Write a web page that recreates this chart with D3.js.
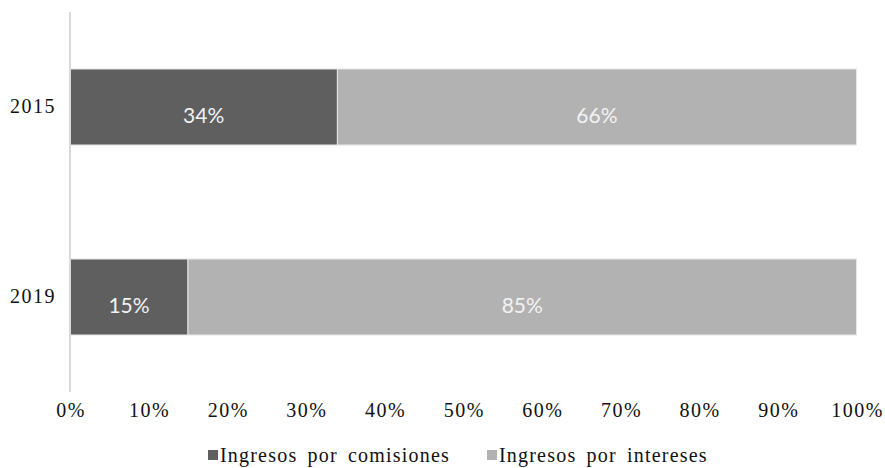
<!DOCTYPE html>
<html>
<head>
<meta charset="utf-8">
<script src="https://cdn.jsdelivr.net/npm/d3@7"></script>
<style>
  body { margin: 0; background: #fff; }
  svg { display: block; }
  .serif { font-family: "Liberation Serif", "DejaVu Serif", "Times New Roman", serif; }
  .lab { font-family: Lato, "Open Sans", sans-serif; }
</style>
</head>
<body>
<div id="chart"></div>
<script>
const years = ["2015", "2019"];
const comisiones = [34, 15];
const intereses = [66, 85];
const seriesNames = ["Ingresos por comisiones", "Ingresos por intereses"];
const xTicks = [0, 10, 20, 30, 40, 50, 60, 70, 80, 90, 100];

const width = 885;
const height = 468;
const marginLeft = 70;
const marginRight = 28;
const marginTop = 12;
const marginBottom = 76;

const colors = ["#5f5f5f", "#b2b2b2"];

const svg = d3.select("#chart").append("svg")
    .attr("width", width)
    .attr("height", height);

const rows = years.map((y, i) => ({ year: y, comisiones: comisiones[i], intereses: intereses[i] }));
const stacked = d3.stack().keys(["comisiones", "intereses"])(rows);

const x = d3.scaleLinear()
    .domain([0, 100])
    .range([marginLeft, width - marginRight - 0.5]);

const y = d3.scaleBand()
    .domain(years)
    .range([marginTop, height - marginBottom])
    .paddingInner(0.6)
    .paddingOuter(0.3);

// bars
svg.append("g").selectAll("g")
  .data(stacked)
  .join("g")
    .attr("fill", (d, i) => colors[i])
  .selectAll("rect")
  .data(d => d)
  .join("rect")
    .attr("x", d => x(d[0]))
    .attr("y", d => y(d.data.year))
    .attr("width", d => x(d[1]) - x(d[0]))
    .attr("height", y.bandwidth())
    .attr("stroke", "#e6e6e6")
    .attr("stroke-width", 1);

// value labels
svg.append("g").selectAll("g")
  .data(stacked)
  .join("g")
  .selectAll("text")
  .data(d => d)
  .join("text")
    .attr("class", "lab")
    .attr("x", d => (x(d[0]) + x(d[1])) / 2)
    .attr("y", d => y(d.data.year) + y.bandwidth() / 2 + 16)
    .attr("text-anchor", "middle")
    .attr("fill", "#f2f2f2")
    .attr("font-size", 21)
    .text(d => (d[1] - d[0]) + "%");

// vertical axis line
svg.append("line")
    .attr("x1", x(0)).attr("x2", x(0))
    .attr("y1", marginTop).attr("y2", height - marginBottom)
    .attr("stroke", "#d9d9d9")
    .attr("stroke-width", 2);

// year labels
svg.append("g").selectAll("text")
  .data(years)
  .join("text")
    .attr("class", "serif")
    .attr("x", marginLeft - 14)
    .attr("y", d => y(d) + y.bandwidth() / 2 + 6)
    .attr("text-anchor", "end")
    .attr("font-size", 20)
    .attr("letter-spacing", 1.5)
    .attr("fill", "#111")
    .text(d => d);

// x tick labels
svg.append("g").selectAll("text")
  .data(xTicks)
  .join("text")
    .attr("class", "serif")
    .attr("x", d => x(d) + 1)
    .attr("y", 417)
    .attr("text-anchor", "middle")
    .attr("font-size", 20)
    .attr("letter-spacing", 1.5)
    .attr("fill", "#111")
    .text(d => d + "%");

// legend
const legendX = [208, 487];
const legend = svg.append("g").selectAll("g")
  .data(seriesNames)
  .join("g")
    .attr("transform", (d, i) => `translate(${legendX[i]}, 462)`);
legend.append("rect")
    .attr("x", 0).attr("y", -12)
    .attr("width", 10).attr("height", 10)
    .attr("fill", (d, i) => colors[i]);
legend.append("text")
    .attr("class", "serif")
    .attr("x", 12)
    .attr("y", 0)
    .attr("font-size", 20)
    .attr("letter-spacing", 1.2)
    .attr("word-spacing", 4)
    .attr("fill", "#111")
    .text(d => d);
</script>
</body>
</html>
